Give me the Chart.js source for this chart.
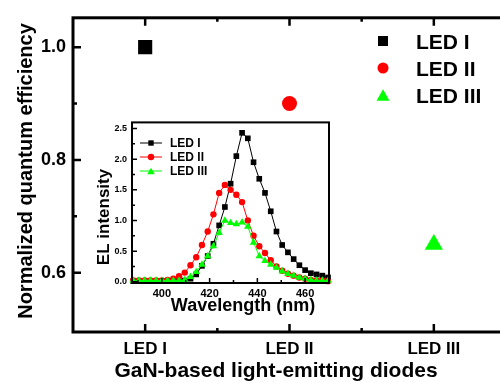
<!DOCTYPE html>
<html>
<head>
<meta charset="utf-8">
<script src="https://cdn.jsdelivr.net/npm/chart.js@4/dist/chart.umd.min.js"></script>
<style>
  html, body { margin: 0; padding: 0; background: #fff; overflow: hidden; width: 500px; height: 382px; }
  #wrap { position: relative; width: 500px; height: 382px; }
  #main { position: absolute; left: 0; top: 0; }
  #inset { position: absolute; left: 90px; top: 112px; }
</style>
</head>
<body>
<div id="wrap">
  <canvas id="main" width="506" height="382"></canvas>
  <canvas id="inset" width="245" height="206"></canvas>
</div>
<script>
// main plot
const devices = ['LED I', 'LED II', 'LED III'];
const efficiency = [1.0, 0.9, 0.65];
const effTicks = [0.6, 0.8, 1.0];
const effMinor = [0.7, 0.9];
const devMinor = [1.5, 2.5];

// inset: EL spectra
const wavelength = [388.0, 390.4, 392.8, 395.2, 397.6, 400.0, 402.4, 404.8, 407.2, 409.6,
  412.0, 414.4, 416.8, 419.2, 421.6, 424.0, 426.4, 428.8, 431.2, 433.6,
  436.0, 438.4, 440.8, 443.2, 445.6, 448.0, 450.4, 452.8, 455.2, 457.6,
  460.0, 462.4, 464.8, 467.2, 469.6];
const elLED1 = [0.01, 0.01, 0.01, 0.01, 0.01, 0.01, 0.01, 0.01, 0.01, 0.02,
  0.05, 0.12, 0.26, 0.42, 0.62, 0.92, 1.22, 1.6, 2.05, 2.43,
  2.34, 1.95, 1.68, 1.45, 1.15, 0.82, 0.6, 0.48, 0.37, 0.27,
  0.19, 0.14, 0.12, 0.1, 0.07];
const elLED2 = [0.02, 0.02, 0.02, 0.02, 0.02, 0.02, 0.03, 0.05, 0.09, 0.15,
  0.27, 0.4, 0.6, 0.82, 1.1, 1.45, 1.58, 1.5, 1.42, 1.3,
  1.0, 0.75, 0.58, 0.47, 0.35, 0.25, 0.18, 0.13, 0.1, 0.07,
  0.05, 0.03, 0.02, 0.02, 0.01];
const elLED3 = [0.02, 0.02, 0.02, 0.02, 0.02, 0.02, 0.02, 0.02, 0.02, 0.03,
  0.08, 0.16, 0.28, 0.42, 0.58, 0.8, 1.0, 0.96, 0.94, 0.97,
  0.9, 0.64, 0.42, 0.34, 0.28, 0.23, 0.17, 0.13, 0.1, 0.07,
  0.05, 0.03, 0.02, 0.02, 0.02];
const elTicks = [0, 0.5, 1.0, 1.5, 2.0, 2.5];
const elMinor = [0.25, 0.75, 1.25, 1.75, 2.25];
const wlTicks = [400, 420, 440, 460];
const wlMinor = [390, 410, 430, 450];

const colors = ['#000000', '#ff0000', '#00ff00'];
const styles = ['rect', 'circle', 'triangle'];
const FONT = '"Liberation Sans", Arial, Helvetica, sans-serif';

function drawMarker(ctx, style, x, y, r) {
  ctx.beginPath();
  if (style === 'rect') {
    ctx.rect(x - r, y - r, 2 * r, 2 * r);
  } else if (style === 'triangle') {
    const h = r * Math.sqrt(3);
    ctx.moveTo(x, y - h / 2);
    ctx.lineTo(x + r, y + h / 2);
    ctx.lineTo(x - r, y + h / 2);
    ctx.closePath();
  } else {
    ctx.arc(x, y, r, 0, Math.PI * 2);
  }
  ctx.fill();
}

// box around the plot area with inward ticks
function framePlugin(cfg) {
  return {
    id: 'frame',
    afterDatasetsDraw(chart) {
      const { ctx, chartArea: a } = chart;
      const xs = chart.scales.x, ys = chart.scales.y;
      ctx.save();
      ctx.strokeStyle = '#000';
      ctx.lineWidth = cfg.lw;
      ctx.strokeRect(a.left, a.top, a.right - a.left, a.bottom - a.top);
      ctx.lineWidth = cfg.tw;
      ctx.beginPath();
      const xt = (vals, len) => vals.forEach(v => {
        const p = xs.getPixelForValue(v);
        ctx.moveTo(p, a.bottom); ctx.lineTo(p, a.bottom - len);
        if (cfg.mirror) { ctx.moveTo(p, a.top); ctx.lineTo(p, a.top + len); }
      });
      const yt = (vals, len) => vals.forEach(v => {
        const p = ys.getPixelForValue(v);
        ctx.moveTo(a.left, p); ctx.lineTo(a.left + len, p);
      });
      xt(cfg.xMajor, cfg.major); xt(cfg.xMinor, cfg.minor);
      yt(cfg.yMajor, cfg.major); yt(cfg.yMinor, cfg.minor);
      ctx.stroke();
      ctx.restore();
    }
  };
}

function legendPlugin(cfg) {
  return {
    id: 'innerLegend',
    afterDraw(chart) {
      const ctx = chart.ctx;
      ctx.save();
      ctx.font = 'bold ' + cfg.size + 'px ' + FONT;
      ctx.textAlign = 'left';
      ctx.textBaseline = 'alphabetic';
      chart.data.datasets.forEach((ds, i) => {
        const y = cfg.y0 + i * cfg.dy;
        ctx.fillStyle = ds.backgroundColor;
        ctx.strokeStyle = ds.borderColor;
        if (cfg.line) {
          ctx.lineWidth = 1;
          ctx.beginPath();
          ctx.moveTo(cfg.mx - cfg.line, y);
          ctx.lineTo(cfg.mx + cfg.line, y);
          ctx.stroke();
        }
        drawMarker(ctx, ds.pointStyle, cfg.mx, y, cfg.r[i]);
        ctx.fillStyle = '#000';
        ctx.fillText(ds.label, cfg.tx, y + cfg.size * 0.36);
      });
      ctx.restore();
    }
  };
}

function titlesPlugin(items) {
  return {
    id: 'titles',
    afterDraw(chart) {
      const ctx = chart.ctx;
      items.forEach(t => {
        ctx.save();
        ctx.fillStyle = '#000';
        ctx.textAlign = 'center';
        ctx.textBaseline = 'middle';
        ctx.font = 'bold ' + t.size + 'px ' + FONT;
        ctx.translate(t.x, t.y);
        if (t.rotate) ctx.rotate(-Math.PI / 2);
        ctx.fillText(t.text, 0, 0);
        ctx.restore();
      });
    }
  };
}

const noPad = s => { s.paddingLeft = 0; s.paddingRight = 0; };

document.addEventListener('DOMContentLoaded', () => {
  new Chart(document.getElementById('main'), {
    type: 'scatter',
    data: {
      datasets: devices.map((d, i) => ({
        label: d,
        data: [{ x: i + 1, y: efficiency[i] }],
        pointStyle: styles[i],
        pointRadius: [10, 7.5, 10.5][i],
        pointBorderWidth: 0,
        backgroundColor: colors[i],
        borderColor: colors[i]
      }))
    },
    options: {
      responsive: false,
      animation: false,
      devicePixelRatio: 1,
      layout: { autoPadding: false, padding: { top: 13, right: 0, left: 0, bottom: 0 } },
      plugins: { legend: { display: false }, tooltip: { enabled: false } },
      scales: {
        x: {
          type: 'linear', min: 0.5, max: 3.5,
          grid: { display: false, drawTicks: false }, border: { display: false },
          afterBuildTicks: s => { s.ticks = devices.map((d, i) => ({ value: i + 1 })); },
          ticks: {
            callback: (v, i) => devices[i],
            color: '#000', padding: 7, maxRotation: 0, autoSkip: false,
            font: { family: FONT, size: 17, weight: 'bold' }
          },
          afterFit: s => { s.height = 50; noPad(s); }
        },
        y: {
          min: 0.495, max: 1.052,
          grid: { display: false, drawTicks: false }, border: { display: false },
          afterBuildTicks: s => { s.ticks = effTicks.map(v => ({ value: v })); },
          ticks: {
            callback: v => v.toFixed(1),
            color: '#000', padding: 7,
            font: { family: FONT, size: 18, weight: 'bold' }
          },
          afterFit: s => { s.width = 73; }
        }
      }
    },
    plugins: [
      framePlugin({ lw: 3, tw: 2.5, major: 8, minor: 4, mirror: true,
        xMajor: [1, 2, 3], xMinor: devMinor, yMajor: effTicks, yMinor: effMinor }),
      legendPlugin({ size: 21, mx: 383, tx: 416, y0: 41, dy: 27, r: [5, 5.5, 6.5] }),
      titlesPlugin([
        { text: 'GaN-based light-emitting diodes', x: 276, y: 371, size: 21 },
        { text: 'Normalized quantum efficiency', x: 26, y: 171, size: 20, rotate: true }
      ])
    ]
  });

  const series = [elLED1, elLED2, elLED3];
  new Chart(document.getElementById('inset'), {
    type: 'line',
    data: {
      datasets: devices.map((d, i) => ({
        label: d,
        data: wavelength.map((w, k) => ({ x: w, y: series[i][k] })),
        borderColor: colors[i],
        backgroundColor: colors[i],
        borderWidth: 1,
        pointStyle: styles[i],
        pointRadius: [4, 3.2, 4.3][i],
        pointBorderWidth: 0,
        clip: false,
        order: 3 - i
      }))
    },
    options: {
      responsive: false,
      animation: false,
      devicePixelRatio: 1,
      layout: { autoPadding: false, padding: { top: 7, right: 6, left: 0, bottom: 0 } },
      plugins: { legend: { display: false }, tooltip: { enabled: false } },
      scales: {
        x: {
          type: 'linear', min: 387.5, max: 470,
          grid: { display: false, drawTicks: false }, border: { display: false },
          afterBuildTicks: s => { s.ticks = wlTicks.map(v => ({ value: v })); },
          ticks: {
            callback: v => String(v),
            color: '#000', padding: 4, maxRotation: 0, autoSkip: false,
            font: { family: FONT, size: 11, weight: 'bold' }
          },
          afterFit: s => { s.height = 35; noPad(s); }
        },
        y: {
          min: -0.02, max: 2.6,
          grid: { display: false, drawTicks: false }, border: { display: false },
          afterBuildTicks: s => { s.ticks = elTicks.map(v => ({ value: v })); },
          ticks: {
            callback: v => v.toFixed(1),
            color: '#000', padding: 5,
            font: { family: FONT, size: 9, weight: 'bold' }
          },
          afterFit: s => { s.width = 42; }
        }
      }
    },
    plugins: [
      framePlugin({ lw: 2, tw: 1.5, major: 5, minor: 3, mirror: false,
        xMajor: wlTicks, xMinor: wlMinor, yMajor: elTicks, yMinor: elMinor }),
      legendPlugin({ size: 12, mx: 61, tx: 80, y0: 31, dy: 14, r: [2.7, 3.2, 3.8], line: 11 }),
      titlesPlugin([
        { text: 'Wavelength (nm)', x: 153, y: 194, size: 18 },
        { text: 'EL intensity', x: 14, y: 105, size: 17, rotate: true }
      ])
    ]
  });
});
</script>
</body>
</html>
